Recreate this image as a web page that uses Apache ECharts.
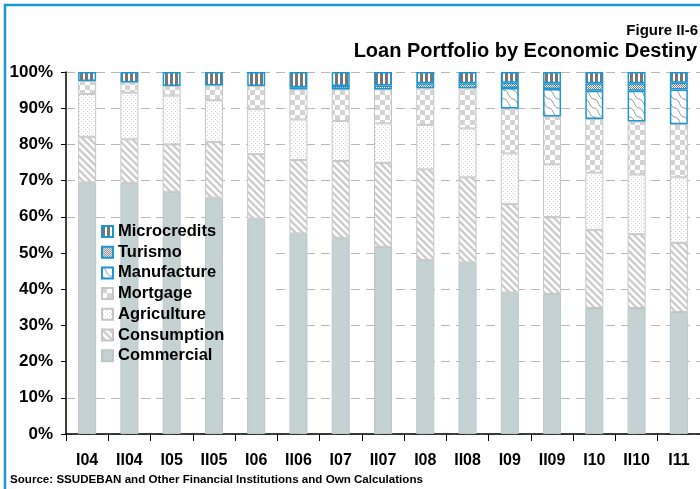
<!DOCTYPE html>
<html>
<head>
<meta charset="utf-8">
<script src="https://cdn.jsdelivr.net/npm/echarts@6/dist/echarts.min.js"></script>
<style>
    html, body { margin: 0; padding: 0; background: #fff; }
    #main { width: 700px; height: 489px; }
</style>
</head>
<body>
<div id="main"></div>
<script>
    var categories = ['I04', 'II04', 'I05', 'II05', 'I06', 'II06', 'I07', 'II07', 'I08', 'II08', 'I09', 'II09', 'I10', 'II10', 'I11'];
    var commercial = [69.5, 69.4, 66.9, 65.3, 59.5, 55.4, 54.2, 51.7, 48.1, 47.4, 39.1, 38.7, 34.8, 34.8, 33.7];
    var consumption = [12.6, 12.0, 13.1, 15.4, 17.8, 20.3, 21.2, 23.2, 25.0, 23.5, 24.4, 21.2, 21.6, 20.4, 19.1];
    var agriculture = [11.8, 12.9, 13.5, 11.5, 12.4, 11.2, 11.1, 10.9, 12.3, 13.5, 14.0, 14.6, 15.8, 16.5, 18.1];
    var mortgage = [3.6, 2.8, 2.6, 4.1, 6.4, 8.3, 8.7, 9.4, 10.1, 11.1, 12.4, 13.2, 14.8, 14.6, 14.7];
    var manufacture = [0, 0, 0, 0, 0, 0, 0, 0, 0, 0, 5.7, 7.6, 7.8, 8.5, 9.6];
    var turismo = [0, 0, 0, 0, 0, 0.6, 0.9, 1.1, 1.4, 1.4, 1.4, 1.6, 2.1, 2.1, 1.8];
    var microcredits = [2.5, 2.9, 3.9, 3.7, 3.9, 4.2, 3.9, 3.7, 3.1, 3.1, 3.0, 3.1, 3.1, 3.1, 3.0];
    var yTicks = [0, 10, 20, 30, 40, 50, 60, 70, 80, 90, 100];

    (function () {
        var font = '"Liberation Sans", Arial, sans-serif';

        // small canvas tiles for the hatch fills
        function pattern(w, h, draw) {
            var c = document.createElement('canvas');
            c.width = w;
            c.height = h;
            var ctx = c.getContext('2d');
            ctx.fillStyle = '#fff';
            ctx.fillRect(0, 0, w, h);
            draw(ctx);
            return { image: c, repeat: 'repeat' };
        }

        var diagFill = pattern(7, 7, function (ctx) {
            ctx.strokeStyle = '#cccccc';
            ctx.lineWidth = 2.4;
            ctx.beginPath();
            ctx.moveTo(-7, 0); ctx.lineTo(7, 14);
            ctx.moveTo(0, 0); ctx.lineTo(7, 7);
            ctx.moveTo(0, -7); ctx.lineTo(14, 7);
            ctx.stroke();
        });
        var dotFill = pattern(4, 4, function (ctx) {
            ctx.fillStyle = '#d2d2d2';
            ctx.fillRect(1, 1, 1, 1);
            ctx.fillRect(3, 3, 1, 1);
        });
        var checkFill = pattern(10, 10, function (ctx) {
            ctx.fillStyle = '#d3d3d3';
            ctx.fillRect(0, 0, 5, 5);
            ctx.fillRect(5, 5, 5, 5);
        });
        var waveFill = pattern(9, 9, function (ctx) {
            ctx.strokeStyle = '#666';
            ctx.lineWidth = 0.7;
            for (var k = -9; k <= 9; k += 9) {
                ctx.beginPath();
                ctx.moveTo(0, k);
                ctx.bezierCurveTo(5, k + 0.5, 4, k + 8.5, 9, k + 9);
                ctx.stroke();
            }
        });
        var fineCheck = pattern(2, 2, function (ctx) {
            ctx.fillStyle = '#7d7d7d';
            ctx.fillRect(0, 0, 1, 1);
            ctx.fillRect(1, 1, 1, 1);
        });
        var stripeFill = pattern(5, 5, function (ctx) {
            ctx.fillStyle = '#767676';
            ctx.fillRect(0, 0, 3, 5);
        });

        function vals(arr) {
            return arr.map(function (v) { return v === 0 ? '-' : v; });
        }

        function bar(name, data, color, border, bw) {
            return {
                name: name,
                type: 'bar',
                stack: 'total',
                barWidth: 18,
                data: vals(data),
                itemStyle: { color: color, borderColor: border, borderWidth: bw }
            };
        }

        var grey = '#c6c6c6';
        var blue = '#1a96d2';

        var myChart = echarts.init(document.getElementById('main'));
        var option = {
            backgroundColor: '#fff',
            animation: false,
            title: [
                {
                    text: 'Figure II-6',
                    right: -3, top: 18,
                    textStyle: { fontFamily: font, fontSize: 15, fontWeight: 'bold', color: '#000' }
                },
                {
                    text: 'Loan Portfolio by Economic Destiny',
                    right: -2, top: 36,
                    textStyle: { fontFamily: font, fontSize: 20, fontWeight: 'bold', color: '#000' }
                }
            ],
            legend: {
                orient: 'vertical',
                left: 101,
                top: 223,
                padding: 0,
                itemWidth: 11,
                itemHeight: 11,
                itemGap: 3.7,
                icon: 'rect',
                data: ['Microcredits', 'Turismo', 'Manufacture', 'Mortgage', 'Agriculture', 'Consumption', 'Commercial'],
                textStyle: { fontFamily: font, fontSize: 16.5, fontWeight: 'bold', color: '#000', lineHeight: 16 }
            },
            grid: { left: 66, top: 72, width: 635, height: 362 },
            xAxis: {
                type: 'category',
                data: categories,
                axisLine: { lineStyle: { color: '#000', width: 1.5 } },
                axisTick: { show: true, length: 7, lineStyle: { color: '#000' } },
                axisLabel: { margin: 19, fontFamily: font, fontSize: 16, fontWeight: 'bold', color: '#000', interval: 0 }
            },
            yAxis: {
                type: 'value',
                min: yTicks[0],
                max: yTicks[yTicks.length - 1],
                interval: 10,
                axisLine: { show: true, lineStyle: { color: '#000', width: 1.5 } },
                axisTick: { show: true, length: 5, lineStyle: { color: '#000' } },
                axisLabel: { margin: 13, formatter: '{value}%', fontFamily: font, fontSize: 17, fontWeight: 'bold', color: '#000' },
                splitLine: { show: true, lineStyle: { color: '#b8b8b8', type: [9, 6], width: 1 } }
            },
            graphic: [
                {
                    type: 'rect',
                    z: 1,
                    shape: { x: 67, y: 221, width: 203, height: 147 },
                    style: { fill: '#fff' }
                },
                {
                    type: 'rect',
                    z: 10,
                    shape: { x: 5, y: 5, width: 760, height: 560 },
                    style: { fill: null, stroke: blue, lineWidth: 2.5 }
                },
                {
                    type: 'text',
                    left: 10,
                    top: 474,
                    style: {
                        text: 'Source: SSUDEBAN and Other Financial Institutions and Own Calculations',
                        font: 'bold 11.6px ' + font,
                        fill: '#000'
                    }
                }
            ],
            series: [
                bar('Commercial', commercial, '#c5d2d3', '#bcc6c7', 1),
                bar('Consumption', consumption, diagFill, grey, 1),
                bar('Agriculture', agriculture, dotFill, grey, 1),
                bar('Mortgage', mortgage, checkFill, grey, 1),
                bar('Manufacture', manufacture, waveFill, blue, 1.5),
                bar('Turismo', turismo, fineCheck, blue, 1.5),
                bar('Microcredits', microcredits, stripeFill, blue, 1.5)
            ]
        };
        myChart.setOption(option);
    }());
</script>
</body>
</html>
